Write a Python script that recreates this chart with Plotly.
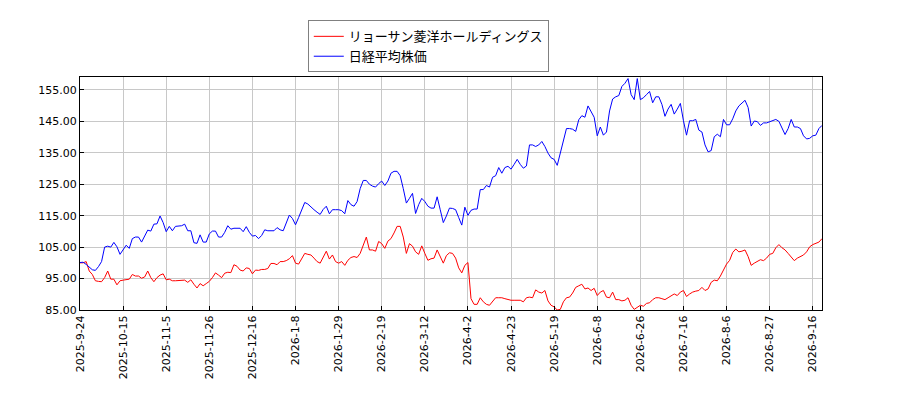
import plotly.graph_objects as go

# trading-day index tick labels (every 14 sessions)
tick_labels = ["2025-9-24", "2025-10-15", "2025-11-5", "2025-11-26", "2025-12-16",
               "2026-1-8", "2026-1-29", "2026-2-19", "2026-3-12", "2026-4-2",
               "2026-4-23", "2026-5-19", "2026-6-8", "2026-6-26", "2026-7-16",
               "2026-8-6", "2026-8-27", "2026-9-16"]
tick_step = 14

# リョーサン菱洋ホールディングス (relative, start = 100)
ryosan = [
    100.0, 100.0, 100.4, 97.4, 96.3, 94.3, 94.1, 94.0, 95.3, 97.4,
    94.8, 94.8, 93.0, 94.3, 94.5, 94.6, 94.8, 96.3, 95.8, 95.8,
    95.1, 95.5, 97.4, 95.3, 94.0, 95.3, 96.1, 96.5, 94.6, 94.8,
    94.3, 94.3, 94.3, 94.3, 94.5, 93.8, 94.6, 93.2, 92.0, 93.4,
    92.7, 93.4, 94.1, 95.3, 96.8, 96.1, 95.3, 96.7, 97.0, 96.9,
    99.4, 98.9, 97.7, 97.4, 98.4, 98.2, 96.5, 97.7, 97.6, 97.9,
    97.9, 98.2, 99.8, 99.8, 99.4, 100.4, 100.4, 100.7, 101.3, 102.3,
    99.9, 99.6, 101.3, 103.0, 102.7, 102.5, 101.5, 100.4, 99.9, 101.7,
    103.7, 101.2, 102.5, 100.4, 99.9, 100.4, 99.2, 100.8, 101.7, 102.0,
    101.7, 103.0, 105.6, 108.2, 104.1, 104.1, 103.7, 106.8, 106.1, 104.6,
    106.9, 107.7, 109.5, 111.6, 111.6, 108.2, 103.0, 106.1, 105.3, 103.5,
    102.7, 105.4, 103.0, 100.8, 101.3, 101.5, 104.1, 102.0, 99.9, 102.3,
    103.2, 103.0, 101.5, 98.4, 96.8, 99.2, 100.1, 88.6, 86.8, 86.8,
    88.9, 87.6, 86.8, 86.5, 87.6, 88.9, 88.9, 88.9, 88.6, 88.3,
    88.1, 88.1, 88.1, 88.1, 87.6, 88.9, 89.1, 88.9, 91.4, 90.7,
    90.4, 91.2, 87.9, 86.5, 86.0, 85.0, 85.2, 87.6, 88.9, 89.1,
    90.4, 92.2, 92.7, 93.2, 91.7, 92.0, 91.2, 91.9, 89.6, 90.7,
    91.2, 89.1, 88.9, 90.7, 88.3, 88.3, 87.9, 88.1, 88.9, 86.5,
    85.2, 86.0, 86.5, 86.2, 87.1, 87.3, 88.3, 88.9, 88.9, 88.6,
    88.3, 88.9, 89.6, 90.1, 89.6, 90.7, 91.2, 89.3, 90.1, 90.7,
    91.0, 91.2, 92.2, 91.2, 91.7, 93.8, 94.5, 94.3, 95.8, 97.9,
    99.6, 100.8, 103.3, 104.4, 103.5, 103.7, 104.1, 102.0, 99.2, 99.9,
    100.4, 101.0, 100.7, 101.5, 102.7, 103.0, 104.8, 105.8, 104.8, 104.1,
    103.0, 102.0, 100.7, 101.5, 102.0, 102.5, 103.5, 105.1, 105.8, 106.1,
    106.6, 107.7,
]

# 日経平均株価 (relative, start = 100)
nikkei = [
    100.1, 100.2, 99.5, 98.6, 97.8, 97.6, 98.8, 100.4, 105.0, 105.3,
    105.0, 106.5, 105.1, 102.7, 104.0, 105.6, 104.6, 107.7, 108.2, 108.2,
    106.6, 108.7, 110.4, 110.1, 112.3, 112.4, 114.9, 112.8, 109.9, 111.6,
    110.2, 111.6, 111.6, 111.8, 112.3, 110.2, 110.2, 106.4, 106.2, 108.9,
    106.6, 106.6, 109.2, 110.1, 110.1, 108.2, 108.2, 109.7, 111.8, 110.7,
    111.0, 111.0, 111.0, 109.9, 111.5, 109.7, 108.5, 108.7, 107.7, 108.7,
    110.5, 110.2, 110.2, 110.2, 111.2, 110.5, 110.2, 113.0, 115.2, 114.1,
    112.1, 114.4, 116.9, 119.2, 118.7, 117.7, 116.9, 116.1, 115.4, 117.0,
    118.0, 115.6, 116.9, 116.9, 116.9, 116.6, 115.6, 119.8, 118.5, 118.0,
    119.5, 123.6, 126.2, 126.2, 125.0, 124.4, 124.1, 125.2, 126.0, 124.6,
    126.0, 128.5, 129.1, 129.1, 127.7, 123.6, 119.0, 120.5, 122.1, 115.7,
    118.5, 120.5, 119.5, 118.0, 117.4, 117.4, 121.0, 116.9, 112.8, 114.9,
    117.4, 117.3, 116.9, 114.4, 112.0, 117.7, 115.1, 116.7, 117.1, 117.1,
    123.3, 123.3, 124.6, 124.1, 127.2, 127.7, 130.3, 128.5, 130.3, 130.7,
    129.8, 131.3, 132.9, 131.3, 130.1, 130.8, 137.5, 137.5, 137.0, 137.5,
    138.6, 137.0, 134.9, 133.4, 132.9, 131.0, 134.9, 139.6, 142.7, 142.7,
    142.5, 141.8, 145.5, 146.8, 146.3, 149.9, 148.3, 146.3, 140.4, 143.2,
    140.6, 141.6, 148.3, 152.1, 152.8, 153.2, 156.1, 157.1, 158.6, 153.5,
    151.9, 158.6, 151.9, 152.5, 153.5, 154.5, 150.9, 152.8, 152.8, 150.4,
    146.6, 148.9, 150.4, 147.3, 148.9, 150.7, 145.2, 140.6, 145.2, 145.2,
    145.6, 142.2, 141.6, 137.5, 135.3, 135.7, 140.1, 140.9, 140.1, 145.6,
    143.9, 143.9, 145.8, 148.3, 149.9, 150.9, 151.7, 149.4, 143.5, 145.1,
    144.9, 143.7, 144.5, 144.5, 144.9, 145.2, 145.6, 145.0, 142.7, 140.8,
    142.7, 145.6, 143.2, 143.2, 142.7, 140.4, 139.4, 139.6, 140.4, 140.6,
    142.7, 143.7,
]

y_ticks = [85, 95, 105, 115, 125, 135, 145, 155]

idx = list(range(len(nikkei)))
tick_vals = [i * tick_step for i in range(len(tick_labels))]

fig = go.Figure()
fig.add_trace(go.Scatter(x=idx, y=ryosan, mode="lines", name="リョーサン菱洋ホールディングス",
                         line=dict(color="red", width=1)))
fig.add_trace(go.Scatter(x=idx, y=nikkei, mode="lines", name="日経平均株価",
                         line=dict(color="blue", width=1)))

# page body adds an 8px margin, so the figure is drawn a little smaller
axis_font = dict(family="DejaVu Sans", size=11, color="black")
fig.update_layout(
    width=892, height=392,
    margin=dict(l=72, r=78, t=62, b=90),
    paper_bgcolor="white", plot_bgcolor="white",
    showlegend=True,
    legend=dict(x=0.307, y=1.243, xanchor="left", yanchor="top",
                bgcolor="rgba(255,255,255,0.9)", bordercolor="#808080", borderwidth=1,
                font=dict(family="Noto Sans CJK JP", size=13, color="black"),
                tracegroupgap=0),
    xaxis=dict(range=[0, len(nikkei) - 1], tickvals=tick_vals, ticktext=tick_labels,
               tickangle=-90, tickfont=axis_font, showgrid=True, gridcolor="#c8c8c8",
               showline=True, linecolor="black", linewidth=1, mirror=True,
               ticks="inside", ticklen=4, tickcolor="black", zeroline=False,
               automargin=False),
    yaxis=dict(range=[85, 159.1], tickvals=y_ticks, tickformat=".2f",
               tickfont=axis_font, showgrid=True, gridcolor="#c8c8c8",
               showline=True, linecolor="black", linewidth=1, mirror=True,
               ticks="inside", ticklen=4, tickcolor="black", zeroline=False,
               automargin=False),
)

fig.write_html("out.html")
